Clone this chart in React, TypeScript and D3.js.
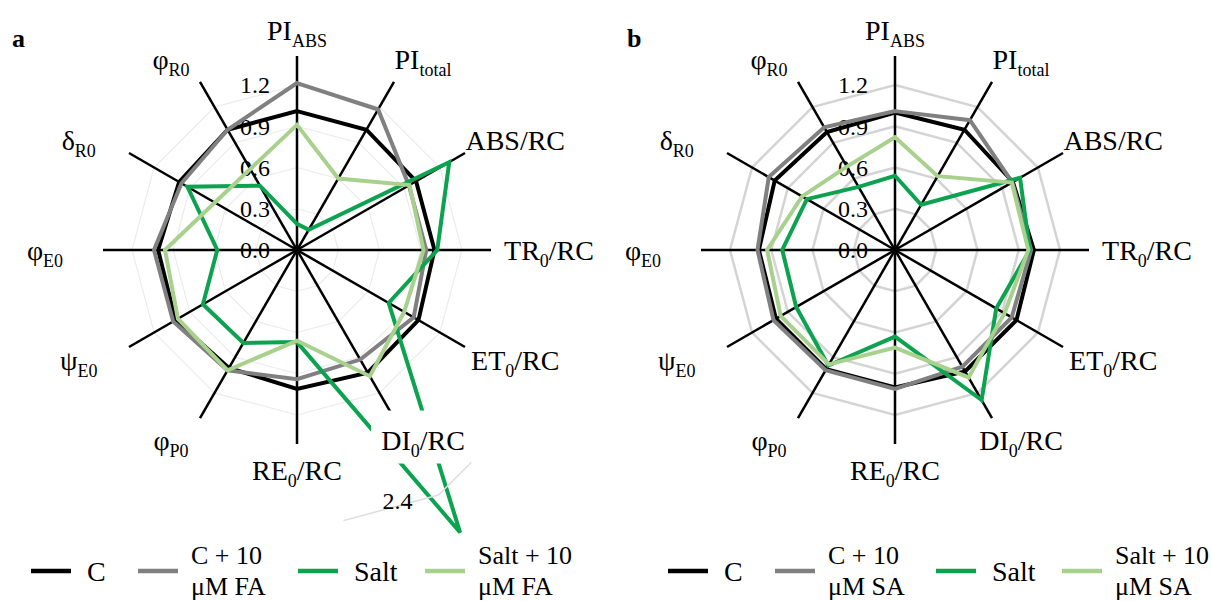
import React from "react";
import * as d3 from "d3";

// axis labels: [main, subscript, rest]
const axisLabels: [string, string, string][] = [
  ["PI", "ABS", ""],
  ["PI", "total", ""],
  ["ABS/RC", "", ""],
  ["TR", "0", "/RC"],
  ["ET", "0", "/RC"],
  ["DI", "0", "/RC"],
  ["RE", "0", "/RC"],
  ["φ", "P0", ""],
  ["ψ", "E0", ""],
  ["φ", "E0", ""],
  ["δ", "R0", ""],
  ["φ", "R0", ""],
];

const tickValues = [0, 0.3, 0.6, 0.9, 1.2];
const tickLabels = ["0.0", "0.3", "0.6", "0.9", "1.2"];
const ringValues = [0.3, 0.6, 0.9, 1.2];
const insetRing = 2.4;

// panel a: ferulic acid
const aControl = [1.01, 1.01, 1.0, 1.0, 1.02, 1.03, 1.01, 0.99, 1.02, 1.01, 0.99, 1.01];
const aControlFA = [1.22, 1.18, 0.94, 0.94, 0.98, 0.92, 0.94, 1.01, 1.04, 1.04, 0.97, 1.01];
const aSalt = [0.19, 0.17, 1.31, 1.02, 0.77, 2.84, 0.67, 0.78, 0.79, 0.58, 0.92, 0.54];
const aSaltFA = [0.91, 0.6, 0.945, 0.92, 0.9, 1.06, 0.66, 1.01, 1.0, 0.96, 0.69, 0.68];

// panel b: salicylic acid
const bControl = [1.0, 1.01, 0.99, 1.01, 1.02, 1.02, 1.0, 1.0, 1.0, 0.99, 1.01, 0.99];
const bControlSA = [1.01, 1.09, 0.985, 0.99, 0.98, 0.98, 1.01, 1.01, 1.02, 1.0, 1.06, 1.03];
const bSalt = [0.54, 0.38, 1.05, 0.98, 0.85, 1.26, 0.63, 0.97, 0.83, 0.82, 0.74, 0.53];
const bSaltSA = [0.82, 0.62, 0.98, 0.97, 0.92, 1.07, 0.71, 0.96, 0.96, 0.93, 0.78, 0.7];

const legendA = [["C"], ["C + 10", "μM FA"], ["Salt"], ["Salt + 10", "μM FA"]];
const legendB = [["C"], ["C + 10", "μM SA"], ["Salt"], ["Salt + 10", "μM SA"]];

const colors = ["#000000", "#808080", "#0ca24f", "#a9d18e"];
const FONT = "Liberation Serif, Times New Roman, serif";
const N = axisLabels.length;
const step = (2 * Math.PI) / N;
const AXIS_LEN = 194;

const pt = (i: number, r: number): [number, number] => [
  Math.sin(i * step) * r,
  -Math.cos(i * step) * r,
];

function AxisLabel({ i }: { i: number }) {
  const [main, sub, rest] = axisLabels[i];
  const x = Math.sin(i * step) * 252;
  const y = -Math.cos(i * step) * 220;
  return (
    <text x={x} y={y} dy="0.35em" textAnchor="middle" fontSize={28} fontFamily={FONT}>
      {main}
      {sub && (
        <tspan dy={7} fontSize={18}>
          {sub}
        </tspan>
      )}
      {rest && <tspan dy={-7}>{rest}</tspan>}
    </text>
  );
}

type RadarProps = {
  cx: number;
  cy: number;
  series: number[][];
  r: d3.ScaleLinear<number, number>;
  ringColor: string;
  ringWidth: number;
  inset?: boolean;
  id: string;
};

function Radar({ cx, cy, series, r, ringColor, ringWidth, inset, id }: RadarProps) {
  const line = d3
    .lineRadial<number>()
    .angle((_, i) => i * step)
    .radius((d) => r(d))
    .curve(d3.curveLinearClosed);
  const ring = (v: number) => line(d3.range(N).map(() => v)) || "";

  // DI0/RC label box and inset position (panel a only)
  const di = 5;
  const lx = Math.sin(di * step) * 252;
  const ly = -Math.cos(di * step) * 220;
  const [vx, vy] = pt(di, r(insetRing));

  return (
    <g transform={`translate(${cx},${cy})`}>
      {ringValues.map((v) => (
        <path key={v} d={ring(v)} fill="none" stroke={ringColor} strokeWidth={ringWidth} />
      ))}
      {d3.range(N).map((i) => {
        const [x, y] = pt(i, AXIS_LEN);
        return <line key={i} x1={0} y1={0} x2={x} y2={y} stroke="#000" strokeWidth={2.5} />;
      })}
      {tickValues.map((v, k) => (
        <text key={v} x={-27} y={-r(v)} dy="0.35em" textAnchor="end" fontSize={24} fontFamily={FONT}>
          {tickLabels[k]}
        </text>
      ))}
      {series.map((s, k) => (
        <path
          key={k}
          d={line(s) || ""}
          fill="none"
          stroke={colors[k]}
          strokeWidth={4}
          strokeLinejoin="miter"
        />
      ))}
      {inset && (
        <g>
          <rect x={lx - 52} y={ly - 30} width={132} height={53} fill="#fff" />
          <clipPath id={`${id}-clip`}>
            <rect x={vx - 95} y={vy - 33} width={128} height={85} />
          </clipPath>
          <path
            d={ring(insetRing)}
            fill="none"
            stroke="#dedede"
            strokeWidth={1.5}
            clipPath={`url(#${id}-clip)`}
          />
          <text x={vx - 26} y={vy + 6} dy="0.35em" textAnchor="end" fontSize={24} fontFamily={FONT}>
            {insetRing.toFixed(1)}
          </text>
        </g>
      )}
      {d3.range(N).map((i) => (
        <AxisLabel key={i} i={i} />
      ))}
    </g>
  );
}

function Legend({ x0, items }: { x0: number[]; items: string[][] }) {
  return (
    <g>
      {items.map((lab, k) => (
        <g key={k}>
          <line x1={x0[k]} x2={x0[k] + 40} y1={571} y2={571} stroke={colors[k]} strokeWidth={4.5} />
          {lab.length === 1 ? (
            <text x={x0[k] + 56} y={571} dy="0.35em" fontSize={28} fontFamily={FONT}>
              {lab[0]}
            </text>
          ) : (
            <text x={x0[k] + 53} y={555} dy="0.35em" fontSize={26} fontFamily={FONT}>
              {lab[0]}
              <tspan x={x0[k] + 53} dy={31}>
                {lab[1]}
              </tspan>
            </text>
          )}
        </g>
      ))}
    </g>
  );
}

export default function App() {
  const rA = d3.scaleLinear().domain([0, 1.2, 2.4]).range([0, 165, 283]);
  const rB = d3.scaleLinear().domain([0, 1.2]).range([0, 165]);
  return (
    <div style={{ position: "absolute", left: 0, top: 0 }}>
      <svg width={1211} height={601} style={{ display: "block", background: "#fff" }}>
        <text x={12} y={47} fontSize={26} fontWeight="bold" fontFamily={FONT}>a</text>
        <text x={627} y={47} fontSize={26} fontWeight="bold" fontFamily={FONT}>b</text>
        <Radar
          id="pa"
          cx={297}
          cy={250}
          r={rA}
          series={[aControl, aControlFA, aSalt, aSaltFA]}
          ringColor="#ececec"
          ringWidth={1.2}
          inset
        />
        <Radar
          id="pb"
          cx={895}
          cy={250}
          r={rB}
          series={[bControl, bControlSA, bSalt, bSaltSA]}
          ringColor="#d4d4d4"
          ringWidth={2.5}
        />
        <Legend x0={[31, 138, 298, 425]} items={legendA} />
        <Legend x0={[668, 775, 936, 1062]} items={legendB} />
      </svg>
    </div>
  );
}
